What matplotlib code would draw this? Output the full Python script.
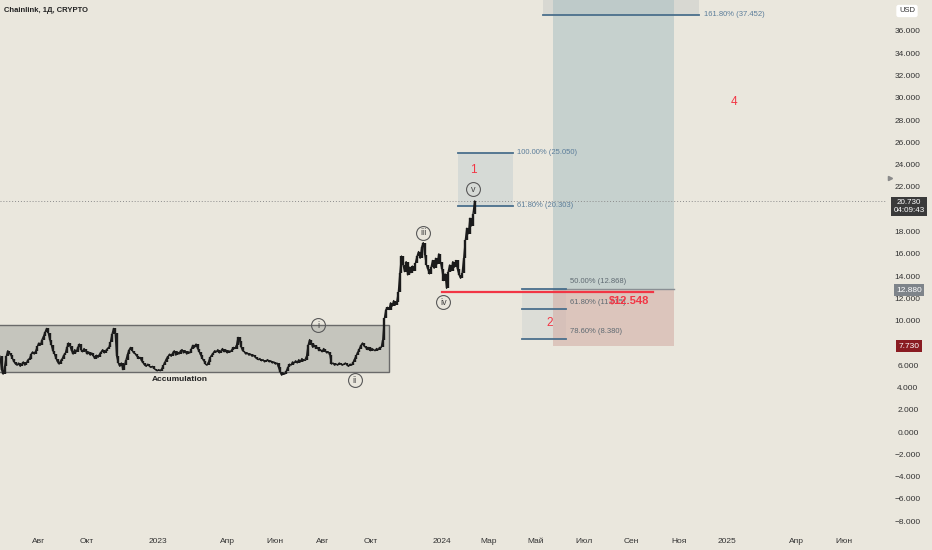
import numpy as np
import pandas as pd
import matplotlib
matplotlib.use("Agg")
import matplotlib.pyplot as plt
import matplotlib.dates as mdates
from matplotlib.patches import Rectangle
from matplotlib.transforms import blended_transform_factory

# ---------------- data ----------------
start_date = "2022-06-12"
step_days = 2
close_prices = [
    6.8, 5.6, 5.2, 5.9, 6.8, 7.3, 7.1, 6.9, 6.6,
    6.3, 6.1, 6.0, 6.2, 5.9, 6.1, 6.3, 6.0, 6.2, 6.5, 6.6,
    7.0, 7.2, 7.0, 7.3, 7.7, 8.0, 7.8, 8.3, 8.6, 9.0, 9.3, 8.9, 8.3,
    7.8, 7.3, 7.0, 6.6, 6.3, 6.1, 6.4, 6.6, 6.9, 7.1,
    7.6, 8.0, 7.7, 7.3, 7.0, 7.4, 7.2, 7.6, 7.9, 7.4, 7.2, 7.5,
    7.3, 7.0, 7.2, 6.9, 7.1, 6.8, 6.6, 6.9, 6.7, 7.0,
    7.2, 7.4, 7.1, 7.3, 7.5, 7.6, 8.1, 8.8, 9.3, 8.9, 6.8, 6.2,
    5.9, 6.2, 5.6, 6.0, 6.5, 7.0, 7.4, 7.6, 7.3,
    7.1, 7.0, 6.8, 6.6, 6.7, 6.4,
    6.2, 6.0, 5.9, 6.1, 5.9, 5.8, 5.9, 5.7, 5.6, 5.5, 5.6, 5.5, 5.7,
    6.0, 6.3, 6.6, 6.8, 7.0, 6.8,
    7.1, 7.3, 6.9, 7.2, 7.0, 7.3, 7.4, 7.1, 7.3, 7.0, 7.2, 7.1, 7.5,
    7.8, 7.6, 7.9, 7.5,
    7.2, 6.9, 6.6, 6.4, 6.1, 6.0, 6.3, 6.7, 6.9, 7.1, 7.3, 7.2,
    7.4, 7.1, 7.3, 7.5, 7.2, 7.4, 7.1, 7.3, 7.2, 7.4, 7.6, 7.5, 7.8,
    8.5, 8.2,
    7.6, 7.3, 7.2, 7.0, 7.1, 6.9, 7.0, 6.8, 6.9,
    6.7, 6.6, 6.5, 6.6, 6.4, 6.5, 6.3, 6.4, 6.5, 6.3, 6.4, 6.2, 6.3, 6.1, 6.2,
    5.8, 5.4, 5.1, 5.3, 5.2, 5.5,
    5.8, 6.1, 6.0, 6.3, 6.2, 6.4, 6.2, 6.5, 6.3, 6.6, 6.4, 6.5, 6.8,
    7.8, 8.3, 8.0,
    7.6, 7.8, 7.5, 7.6, 7.3, 7.4, 7.2, 7.5, 7.3, 7.1, 7.2, 6.9,
    6.1,
    6.2, 6.0, 6.1, 6.0, 6.2, 6.1, 6.0, 6.1, 6.2, 6.0, 5.9, 6.1, 6.0,
    6.3, 6.6, 6.9, 7.2, 7.5, 7.8, 8.0, 7.7, 7.6,
    7.4, 7.6, 7.3, 7.5, 7.4, 7.3, 7.5, 7.4, 7.6,
    7.6, 8.3, 10.2, 11.0,
    11.2, 11.0, 11.6, 11.3, 11.8, 11.4, 11.7, 12.6, 14.3, 15.8, 15.0, 14.4,
    15.3, 14.1, 14.8, 14.3, 14.9, 14.5, 15.2, 15.8, 16.2, 15.6, 16.6, 17.0,
    15.9, 15.0, 14.6, 14.2, 14.8, 15.4, 14.7, 15.6, 15.1, 16.0, 15.3, 14.6,
    13.6, 14.2, 12.9, 14.4, 15.0, 14.5, 15.3, 14.8, 15.4, 14.6, 14.1, 13.8,
    14.3, 15.6, 17.2, 18.3, 17.8, 19.2, 18.5, 19.6, 20.73,
]

price_ticks = list(range(36, -9, -2))
hidden_ticks = [20, 8]  # covered by the price tags in the reference
x_tick_dates = ["2022-08-01", "2022-10-01", "2023-01-01", "2023-04-01", "2023-06-01",
                "2023-08-01", "2023-10-01", "2024-01-01", "2024-03-01", "2024-05-01",
                "2024-07-01", "2024-09-01", "2024-11-01", "2025-01-01", "2025-04-01",
                "2025-06-01"]
x_tick_labels = ["Авг", "Окт", "2023", "Апр", "Июн", "Авг", "Окт", "2024", "Мар",
                 "Май", "Июл", "Сен", "Ноя", "2025", "Апр", "Июн"]

accum_low, accum_high = 5.4, 9.6
fib1_levels = [25.050, 20.303]
fib1_labels = ["100.00% (25.050)", "61.80% (20.303)"]
fib2_levels = [12.868, 11.015, 8.380]
fib2_labels = ["50.00% (12.868)", "61.80% (11.015)", "78.60% (8.380)"]
fib3_level = 37.452
fib3_label = "161.80% (37.452)"
entry_price, stop_price, target_top = 12.88, 7.73, 42.0
support_price = 12.548
current_price = 20.73

wave_labels = ["i", "ii", "iii", "iv", "v"]
wave_dates = ["2023-07-26", "2023-09-11", "2023-12-08", "2024-01-03", "2024-02-10"]
wave_prices = [9.6, 4.67, 17.87, 11.67, 21.8]

# ---------------- styling ----------------
BG = "#eae7dd"
FIB_LINE = "#4a6f8c"
FIB_TXT = "#5b7d9a"
RED = "#f23645"
FONT = "Liberation Sans"

def d(s):
    return mdates.date2num(np.datetime64(s))

fig = plt.figure(figsize=(9.32, 5.5), dpi=100, facecolor=BG)
ax = fig.add_axes([0, 20 / 550, 887 / 932, 530 / 550])
ax.set_facecolor(BG)

ax.set_xlim(d("2022-06-12"), d("2025-07-26"))
ax.set_ylim(-8.79, 38.78)

# candles (open = previous close)
dates = mdates.date2num(pd.date_range(start=start_date, periods=len(close_prices),
                                      freq=f"{step_days}D").to_numpy())
closes = np.array(close_prices)
opens = np.concatenate([[closes[0]], closes[:-1]])
ax.vlines(dates, np.minimum(opens, closes), np.maximum(opens, closes),
          color="#1b1b1b", lw=1.7, zorder=4)
ax.plot(dates, closes, color="#1b1b1b", lw=1.0, zorder=4)

# accumulation box
ax.add_patch(Rectangle((d("2022-05-20"), accum_low), d("2023-10-25") - d("2022-05-20"),
                       accum_high - accum_low, facecolor="#c5c5bd", edgecolor="#6a6a6a",
                       lw=1.0, zorder=2))
ax.text(d("2023-01-29"), 4.76, "Accumulation", ha="center", va="center",
        fontsize=6, fontweight="bold", color="#222", family=FONT, zorder=6)

# fib 3 box (161.8%)
ax.add_patch(Rectangle((d("2024-05-10"), fib3_level), d("2024-11-27") - d("2024-05-10"),
                       target_top - fib3_level, facecolor="#d8d8d2", edgecolor="none",
                       zorder=1))

# position tool
x0p, x1p = d("2024-05-23"), d("2024-10-25")
ax.add_patch(Rectangle((x0p, entry_price), x1p - x0p, target_top - entry_price,
                       facecolor="#a9bfc3", alpha=0.55, edgecolor="none", zorder=2))
ax.add_patch(Rectangle((x0p, stop_price), x1p - x0p, entry_price - stop_price,
                       facecolor="#d2a9a2", alpha=0.55, edgecolor="none", zorder=2))
ax.plot([x0p, x1p], [entry_price, entry_price], color="#8a8f94", lw=1.0, zorder=3)

ax.plot([d("2024-05-10"), d("2024-11-27")], [fib3_level, fib3_level],
        color=FIB_LINE, lw=1.3, zorder=3)
ax.text(d("2024-12-03"), fib3_level, fib3_label, fontsize=5.5, color=FIB_TXT,
        va="center", ha="left", family=FONT, zorder=6)

# fib 1
f1a, f1b = d("2024-01-21"), d("2024-04-01")
ax.add_patch(Rectangle((f1a, fib1_levels[1]), f1b - f1a, fib1_levels[0] - fib1_levels[1],
                       facecolor="#d6dad6", edgecolor="none", zorder=1))
for lv, lb in zip(fib1_levels, fib1_labels):
    ax.plot([f1a, f1b], [lv, lv], color=FIB_LINE, lw=1.3, zorder=3)
    ax.text(d("2024-04-06"), lv, lb, fontsize=5.5, color=FIB_TXT, va="center",
            ha="left", family=FONT, zorder=6)

# fib 2
f2a, f2b = d("2024-04-13"), d("2024-06-09")
ax.add_patch(Rectangle((f2a, fib2_levels[2]), f2b - f2a, fib2_levels[0] - fib2_levels[2],
                       facecolor="#dcddd7", edgecolor="none", zorder=1))
for lv, lb in zip(fib2_levels, fib2_labels):
    ax.plot([f2a, f2b], [lv, lv], color=FIB_LINE, lw=1.3, zorder=3)
    ax.text(d("2024-06-14"), lv + 0.65, lb, fontsize=5.5, color="#5f6a72", va="center",
            ha="left", family=FONT, zorder=6)

# red support line
ax.plot([d("2024-01-01"), d("2024-09-28")], [support_price, support_price],
        color=RED, lw=1.6, zorder=5)
ax.text(d("2024-09-24"), 11.76, "$12.548", ha="right", va="center", fontsize=8,
        fontweight="bold", color=RED, family=FONT, zorder=7)

# current price dotted line
ax.axhline(current_price, color="#8c8c8c", lw=0.7, ls=(0, (1, 2)), zorder=3)

# wave labels
ax.text(d("2024-02-11"), 23.52, "1", color=RED, fontsize=8.5, ha="center", va="center",
        family=FONT, zorder=6)
ax.text(d("2024-05-19"), 9.79, "2", color=RED, fontsize=8.5, ha="center", va="center",
        family=FONT, zorder=6)
ax.text(d("2025-01-10"), 29.63, "4", color=RED, fontsize=8.5, ha="center", va="center",
        family=FONT, zorder=6)
for lb, ds, pr in zip(wave_labels, wave_dates, wave_prices):
    ax.plot([d(ds)], [pr], marker="o", ms=10, mfc="none", mec="#5a5a5a", mew=0.8,
            zorder=6)
    ax.text(d(ds), pr, lb, fontsize=6.5, color="#444", ha="center", va="center",
            family=FONT, zorder=6)

# axes styling
for s in ax.spines.values():
    s.set_visible(False)
ax.yaxis.tick_right()
ax.set_yticks(price_ticks)
ax.set_yticklabels(["" if v in hidden_ticks else f"{v:.3f}".replace("-", "\u2212")
                    for v in price_ticks],
                   fontsize=6, color="#333", family=FONT)
ax.tick_params(axis="y", length=0, pad=15)
for t in ax.get_yticklabels():
    t.set_horizontalalignment("center")
ax.set_xticks([d(s) for s in x_tick_dates])
ax.set_xticklabels(x_tick_labels, fontsize=6, color="#333", family=FONT)
ax.tick_params(axis="x", length=0, pad=6)

# right axis price tags
tr = blended_transform_factory(ax.transAxes, ax.transData)
xc = 909 / 887
ax.text(xc, 20.25, "20.730\n04:09:43", transform=tr, ha="center", va="center",
        fontsize=5.8, color="white", family=FONT, linespacing=1.1, clip_on=False,
        bbox=dict(boxstyle="square,pad=0.3", fc="#3a3a3a", ec="none"), zorder=8)
ax.text(xc, 12.75, "12.880", transform=tr, ha="center", va="center", fontsize=6,
        color="white", family=FONT, clip_on=False,
        bbox=dict(boxstyle="square,pad=0.25", fc="#7e848a", ec="none"), zorder=8)
ax.text(xc, 7.72, "7.730", transform=tr, ha="center", va="center", fontsize=6,
        color="white", family=FONT, clip_on=False,
        bbox=dict(boxstyle="square,pad=0.25", fc="#8a1c22", ec="none"), zorder=8)
ax.plot([1.003], [22.8], marker=">", ms=3, color="#8a8a8a", transform=tr, clip_on=False)

fig.text(4 / 932, 1 - 10 / 550, "Chainlink, 1Д, CRYPTO", fontsize=5.5, fontweight="bold",
         color="#222", va="center", ha="left", family=FONT)
fig.text(907 / 932, 1 - 11 / 550, "USD", fontsize=5.5, color="#333", va="center",
         ha="center", family=FONT,
         bbox=dict(boxstyle="round,pad=0.35,rounding_size=0.3", fc="white", ec="none"))

fig.savefig("out.png", dpi=100, facecolor=BG)
